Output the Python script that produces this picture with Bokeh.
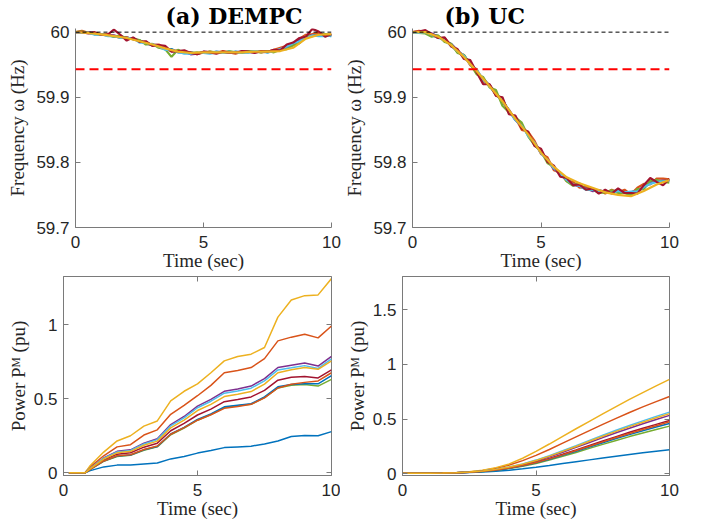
from bokeh.plotting import figure
from bokeh.models import Range1d, FixedTicker, LinearAxis, Span
from bokeh.layouts import column, row
from bokeh.embed import file_html
from bokeh.resources import INLINE

# ---------------- data ----------------
titles = ["(a) DEMPC", "(b) UC"]
x_ticks = [0, 5, 10]
freq_ticks = [59.7, 59.8, 59.9, 60]
freq_tick_labels = {59.7: "59.7", 59.8: "59.8", 59.9: "59.9", 60: "60"}
pow_ticks_a = [0, 0.5, 1]
pow_ticks_b = [0, 0.5, 1, 1.5]
pow_tick_labels = {0: "0", 0.5: "0.5", 1: "1", 1.5: "1.5"}
nominal_hz = 60.0
limit_hz = 59.943

t_q = [0, 0.25, 0.5, 0.75, 1, 1.25, 1.5, 1.75, 2, 2.25, 2.5, 2.75, 3, 3.25, 3.5, 3.75, 4, 4.25, 4.5, 4.75,
       5, 5.25, 5.5, 5.75, 6, 6.25, 6.5, 6.75, 7, 7.25, 7.5, 7.75, 8, 8.25, 8.5, 8.75, 9, 9.25, 9.5, 9.75, 10]
t_h = [0, 0.5, 1, 1.5, 2, 2.5, 3, 3.5, 4, 4.5, 5, 5.5, 6, 6.5, 7, 7.5, 8, 8.5, 9, 9.5, 10]
t_pa = [0.2, 0.5, 0.8, 1.0, 1.5, 2, 2.5, 3, 3.5, 4, 4.5, 5, 5.5, 6, 6.5, 7, 7.5, 8, 8.5, 9, 9.5, 10]

# (a) DEMPC frequency
a_freq_blue = [60.000,60.000,60.000,59.997,59.996,59.996,59.993,59.993,59.992,59.989,59.987,59.983,59.980,59.980,59.974,59.974,59.969,59.969,59.969,59.967,59.969,59.968,59.970,59.969,59.968,59.970,59.969,59.969,59.970,59.971,59.969,59.971,59.972,59.978,59.980,59.986,59.992,59.996,59.996,59.995,59.994]
a_freq_orange = [60.000,60.002,59.999,59.999,59.996,59.997,59.994,59.991,59.992,59.989,59.986,59.985,59.980,59.981,59.975,59.971,59.972,59.968,59.969,59.966,59.969,59.970,59.968,59.971,59.969,59.967,59.970,59.970,59.971,59.969,59.970,59.973,59.976,59.979,59.980,59.990,59.996,59.997,59.999,59.994,59.996]
a_freq_purple = [60.000,60.000,60.000,59.998,59.996,59.995,59.995,59.992,59.991,59.990,59.987,59.982,59.981,59.980,59.975,59.971,59.970,59.970,59.966,59.967,59.970,59.969,59.968,59.969,59.968,59.969,59.970,59.970,59.969,59.970,59.971,59.971,59.973,59.977,59.982,59.988,59.993,59.995,59.995,59.996,59.996]
a_freq_green = [60.000,60.001,59.999,59.997,59.997,59.995,59.993,59.995,59.990,59.990,59.988,59.981,59.982,59.976,59.974,59.962,59.973,59.968,59.968,59.969,59.968,59.970,59.969,59.968,59.971,59.969,59.968,59.971,59.970,59.969,59.971,59.969,59.973,59.974,59.980,59.983,59.994,59.994,59.996,59.997,59.995]
a_freq_cyan = [60.000,59.999,59.999,59.996,59.997,59.994,59.994,59.991,59.991,59.991,59.984,59.984,59.981,59.978,59.973,59.972,59.970,59.967,59.967,59.968,59.968,59.967,59.969,59.968,59.970,59.968,59.969,59.969,59.971,59.970,59.969,59.971,59.974,59.978,59.983,59.986,59.991,59.995,59.994,59.994,59.995]
a_freq_red = [60.000,60.000,59.998,60.000,59.996,59.996,60.004,59.996,59.987,59.992,59.985,59.986,59.979,59.980,59.979,59.970,59.971,59.972,59.968,59.966,59.970,59.969,59.967,59.970,59.969,59.968,59.971,59.970,59.968,59.971,59.970,59.973,59.972,59.981,59.984,59.991,59.993,60.005,60.001,59.993,59.997]
a_freq_yellow = [60.000,59.999,59.9965,59.994,59.991,59.986,59.981,59.975,59.970,59.968,59.969,59.969,59.969,59.969,59.970,59.970,59.971,59.976,59.990,59.996,59.997]

# (b) UC frequency
b_freq_blue = [60.000,60.000,59.999,59.997,59.994,59.987,59.982,59.971,59.964,59.952,59.939,59.929,59.917,59.905,59.895,59.880,59.866,59.856,59.843,59.829,59.816,59.802,59.792,59.783,59.773,59.769,59.763,59.759,59.758,59.757,59.754,59.755,59.757,59.754,59.754,59.758,59.761,59.769,59.772,59.770,59.773]
b_freq_orange = [60.000,60.002,60.001,59.996,59.991,59.991,59.980,59.970,59.965,59.949,59.943,59.924,59.919,59.903,59.897,59.878,59.869,59.850,59.847,59.833,59.813,59.808,59.788,59.784,59.771,59.770,59.761,59.763,59.757,59.757,59.752,59.758,59.754,59.758,59.751,59.761,59.767,59.766,59.775,59.775,59.774]
b_freq_purple = [60.000,60.000,59.999,59.998,59.993,59.987,59.982,59.972,59.961,59.953,59.940,59.927,59.919,59.906,59.893,59.881,59.865,59.855,59.844,59.828,59.815,59.804,59.790,59.783,59.774,59.765,59.764,59.760,59.756,59.757,59.755,59.754,59.758,59.753,59.754,59.754,59.763,59.768,59.771,59.772,59.771]
b_freq_green = [60.000,59.999,59.998,59.993,59.995,59.985,59.982,59.968,59.965,59.951,59.935,59.931,59.915,59.911,59.887,59.877,59.869,59.861,59.840,59.826,59.817,59.799,59.793,59.784,59.771,59.764,59.768,59.758,59.759,59.753,59.754,59.757,59.753,59.753,59.749,59.759,59.759,59.772,59.773,59.770,59.769]
b_freq_cyan = [60.000,59.999,60.000,59.996,59.991,59.988,59.979,59.971,59.964,59.950,59.942,59.927,59.917,59.904,59.896,59.879,59.865,59.856,59.841,59.830,59.814,59.804,59.791,59.782,59.773,59.766,59.764,59.758,59.758,59.755,59.756,59.753,59.756,59.754,59.755,59.755,59.762,59.767,59.770,59.771,59.772]
b_freq_red = [60.000,60.001,60.003,59.997,59.991,59.992,59.978,59.974,59.959,59.957,59.938,59.920,59.920,59.902,59.900,59.874,59.872,59.852,59.847,59.825,59.821,59.801,59.795,59.778,59.776,59.765,59.766,59.758,59.760,59.752,59.758,59.752,59.760,59.753,59.753,59.752,59.765,59.776,59.770,59.765,59.775]
b_freq_yellow = [60.000,60.000,59.993,59.980,59.962,59.940,59.917,59.894,59.867,59.843,59.815,59.793,59.777,59.768,59.761,59.754,59.750,59.748,59.756,59.766,59.773]

# (a) DEMPC mechanical power
a_pow_blue1 = [0,0,0,0.015,0.04,0.052,0.053,0.06,0.066,0.094,0.11,0.133,0.15,0.17,0.175,0.18,0.195,0.215,0.245,0.252,0.25,0.278]
a_pow_orange1 = [0,0,0,0.04,0.115,0.175,0.19,0.255,0.29,0.395,0.455,0.52,0.59,0.675,0.69,0.71,0.77,0.89,0.915,0.935,0.91,0.99]
a_pow_yellow1 = [0,0,0,0.05,0.14,0.215,0.25,0.315,0.35,0.485,0.55,0.6,0.675,0.755,0.785,0.8,0.845,1.05,1.165,1.195,1.2,1.31]
a_pow_purple = [0,0,0,0.03,0.1,0.145,0.155,0.2,0.23,0.325,0.38,0.45,0.495,0.55,0.565,0.585,0.635,0.71,0.725,0.74,0.72,0.785]
a_pow_green = [0,0,0,0.024,0.078,0.11,0.118,0.152,0.175,0.257,0.302,0.355,0.393,0.44,0.452,0.462,0.507,0.572,0.59,0.595,0.585,0.63]
a_pow_cyan = [0,0,0,0.03,0.097,0.141,0.151,0.195,0.224,0.317,0.371,0.439,0.483,0.537,0.552,0.571,0.62,0.694,0.708,0.723,0.704,0.768]
a_pow_red = [0,0,0,0.026,0.087,0.126,0.135,0.173,0.2,0.284,0.333,0.39,0.43,0.48,0.495,0.512,0.556,0.625,0.645,0.65,0.64,0.695]
a_pow_blue2 = [0,0,0,0.024,0.08,0.113,0.12,0.155,0.178,0.262,0.307,0.36,0.397,0.445,0.456,0.466,0.512,0.58,0.596,0.6,0.6,0.655]
a_pow_orange2 = [0,0,0,0.024,0.08,0.115,0.122,0.157,0.181,0.26,0.305,0.355,0.392,0.435,0.448,0.462,0.505,0.572,0.598,0.61,0.62,0.675]
a_pow_yellow2 = [0,0,0,0.028,0.093,0.135,0.145,0.186,0.214,0.303,0.355,0.42,0.462,0.514,0.53,0.548,0.598,0.675,0.695,0.71,0.698,0.755]

# (b) UC mechanical power
b_pow_blue1 = [0.005,0.005,0.005,0.006,0.008,0.011,0.016,0.023,0.032,0.045,0.060,0.076,0.093,0.110,0.127,0.144,0.161,0.177,0.193,0.206,0.219]
b_pow_orange1 = [0.005,0.005,0.005,0.006,0.010,0.017,0.030,0.050,0.080,0.120,0.168,0.222,0.280,0.338,0.395,0.452,0.507,0.560,0.612,0.660,0.707]
b_pow_yellow1 = [0.005,0.005,0.005,0.006,0.010,0.018,0.032,0.056,0.090,0.142,0.205,0.272,0.342,0.412,0.480,0.548,0.614,0.680,0.743,0.804,0.863]
b_pow_purple = [0.005,0.005,0.005,0.006,0.009,0.014,0.024,0.038,0.058,0.085,0.117,0.155,0.197,0.241,0.286,0.331,0.375,0.417,0.457,0.496,0.534]
b_pow_green = [0.005,0.005,0.005,0.006,0.009,0.013,0.020,0.031,0.047,0.068,0.094,0.125,0.159,0.195,0.232,0.269,0.305,0.340,0.373,0.405,0.436]
b_pow_cyan = [0.005,0.005,0.005,0.006,0.009,0.015,0.025,0.040,0.062,0.090,0.125,0.165,0.210,0.257,0.305,0.352,0.398,0.442,0.484,0.525,0.564]
b_pow_red = [0.005,0.005,0.005,0.006,0.009,0.014,0.022,0.035,0.053,0.077,0.106,0.140,0.178,0.218,0.259,0.300,0.340,0.379,0.416,0.452,0.487]
b_pow_blue2 = [0.005,0.005,0.005,0.006,0.009,0.013,0.021,0.033,0.050,0.072,0.100,0.132,0.168,0.206,0.245,0.284,0.322,0.358,0.393,0.427,0.460]
b_pow_orange2 = [0.005,0.005,0.005,0.006,0.009,0.014,0.022,0.034,0.052,0.075,0.103,0.136,0.173,0.212,0.252,0.292,0.331,0.369,0.405,0.440,0.475]
b_pow_yellow2 = [0.005,0.005,0.005,0.006,0.009,0.015,0.025,0.040,0.061,0.088,0.122,0.161,0.205,0.250,0.297,0.343,0.388,0.431,0.472,0.512,0.550]

# ---------------- style ----------------
BLUE, ORANGE, YELLOW = "#0072BD", "#D95319", "#EDB120"
PURPLE, GREEN, CYAN, DRED = "#7E2F8E", "#77AC30", "#4DBEEE", "#A2142F"
AX = "#7a7a7a"
TXT = "#262626"
SANS = "Liberation Sans"
SERIF = "Liberation Serif"


def make_fig(w, h, bl, br, bt, bb, y0, y1, box):
    p = figure(width=w, height=h, output_backend="svg", toolbar_location=None,
               x_range=Range1d(0, 10), y_range=Range1d(y0, y1),
               min_border_left=bl, min_border_right=br, min_border_top=bt, min_border_bottom=bb)
    p.grid.visible = False
    p.background_fill_color = "white"
    p.border_fill_color = "white"
    p.outline_line_color = AX if box else None
    for ax in p.axis:
        ax.axis_line_color = AX
        ax.major_tick_line_color = AX
        ax.minor_tick_line_color = None
        ax.major_tick_in = 5
        ax.major_tick_out = 0
        ax.major_label_text_font = SANS
        ax.major_label_text_font_size = "17px"
        ax.major_label_text_color = TXT
        ax.axis_label_text_font = SERIF
        ax.axis_label_text_font_style = "normal"
        ax.axis_label_text_font_size = "19px"
        ax.axis_label_text_color = TXT
    p.xaxis.ticker = FixedTicker(ticks=x_ticks)
    p.xaxis.major_label_standoff = 8
    p.xaxis.axis_label = "Time (sec)"
    p.xaxis.axis_label_standoff = -1
    p.yaxis.major_label_standoff = 6
    return p


def mirror_axes(p, yticks):
    r = LinearAxis(ticker=FixedTicker(ticks=yticks),
                   major_label_overrides={v: "" for v in yticks},
                   major_label_standoff=0, major_tick_in=5, major_tick_out=0,
                   axis_line_color=None, major_tick_line_color=AX, minor_tick_line_color=None)
    t = LinearAxis(ticker=FixedTicker(ticks=x_ticks),
                   major_label_overrides={v: "" for v in x_ticks},
                   major_label_standoff=0, major_tick_in=5, major_tick_out=0,
                   axis_line_color=None, major_tick_line_color=AX, minor_tick_line_color=None)
    p.add_layout(r, "right")
    p.add_layout(t, "above")


def freq_fig(w, bl, br, series, yellow, title, toff):
    p = make_fig(w, 273, bl, br, 28, 44, 59.7, 60.0056, False)
    p.title.text = title
    p.title.align = "left"
    p.title.offset = toff
    p.title.standoff = 0
    p.title.text_font = "DejaVu Serif"
    p.title.text_font_style = "bold"
    p.title.text_font_size = "22px"
    p.title.text_color = "black"
    p.yaxis.ticker = FixedTicker(ticks=freq_ticks)
    p.yaxis.major_label_overrides = freq_tick_labels
    p.yaxis.axis_label = "Frequency ω (Hz)"
    p.yaxis.axis_label_standoff = 5
    for ys, c in series:
        p.line(t_q, ys, line_color=c, line_width=2.2)
    p.line(t_h, yellow, line_color=YELLOW, line_width=2.2)
    p.add_layout(Span(location=nominal_hz, dimension="width", line_color="black",
                      line_width=1, line_dash="4 3"))
    p.add_layout(Span(location=limit_hz, dimension="width", line_color="#ff0000",
                      line_width=1.8, line_dash="9 5"))
    return p


def pow_fig(w, bl, br, tt, series, y1, yticks):
    p = make_fig(w, 252, bl, br, 3, 50, y1[0], y1[1], True)
    p.yaxis.ticker = FixedTicker(ticks=yticks)
    p.yaxis.major_label_overrides = pow_tick_labels
    p.yaxis.axis_label = "Power Pᴹ (pu)"
    p.yaxis.axis_label_standoff = 2
    for ys, c in series:
        p.line(tt, ys, line_color=c, line_width=1.5)
    mirror_axes(p, yticks)
    return p


p_tl = freq_fig(341, 75, 10,
                [(a_freq_blue, BLUE), (a_freq_orange, ORANGE), (a_freq_purple, PURPLE),
                 (a_freq_green, GREEN), (a_freq_cyan, CYAN), (a_freq_red, DRED)],
                a_freq_yellow, titles[0], 90)
p_tr = freq_fig(366, 71, 38,
                [(b_freq_blue, BLUE), (b_freq_orange, ORANGE), (b_freq_purple, PURPLE),
                 (b_freq_green, GREEN), (b_freq_cyan, CYAN), (b_freq_red, DRED)],
                b_freq_yellow, titles[1], 32)

p_bl = pow_fig(340, 63, 9, t_pa,
               [(a_pow_blue1, BLUE), (a_pow_orange1, ORANGE), (a_pow_yellow1, YELLOW),
                (a_pow_purple, PURPLE), (a_pow_green, GREEN), (a_pow_cyan, CYAN),
                (a_pow_red, DRED), (a_pow_blue2, BLUE), (a_pow_orange2, ORANGE),
                (a_pow_yellow2, YELLOW)],
               (-0.018, 1.324), pow_ticks_a)
p_br = pow_fig(367, 62, 38, t_h,
               [(b_pow_blue1, BLUE), (b_pow_orange1, ORANGE), (b_pow_yellow1, YELLOW),
                (b_pow_purple, PURPLE), (b_pow_green, GREEN), (b_pow_cyan, CYAN),
                (b_pow_red, DRED), (b_pow_blue2, BLUE), (b_pow_orange2, ORANGE),
                (b_pow_yellow2, YELLOW)],
               (-0.016, 1.805), pow_ticks_b)

layout = column(row(p_tl, p_tr, spacing=0), row(p_bl, p_br, spacing=0), spacing=0)

open("out.html", "w").write(file_html(layout, INLINE))
